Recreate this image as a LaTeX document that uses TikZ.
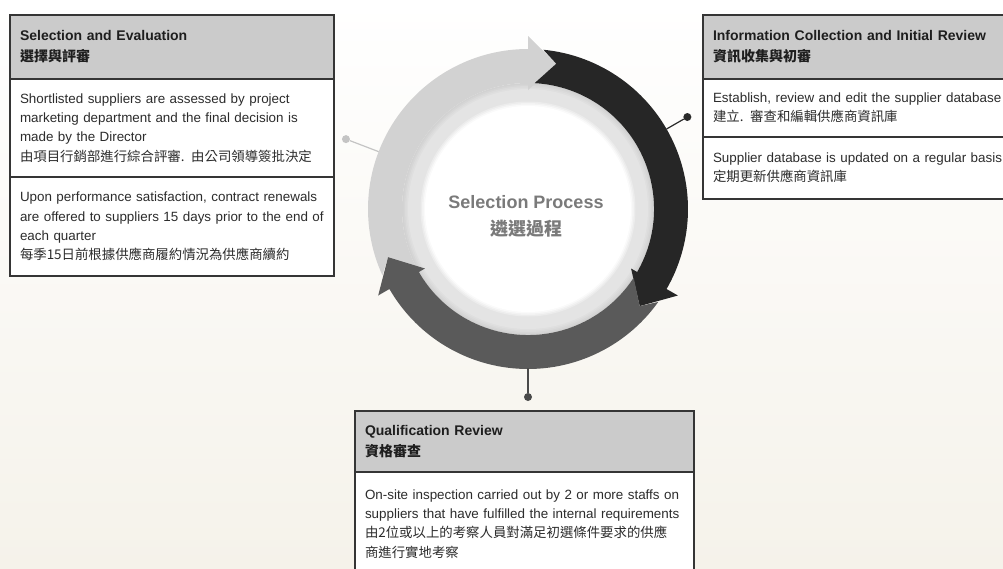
\documentclass[tikz,border=0pt]{standalone}
\usepackage{fontspec}
\setmainfont{Liberation Sans}
\newfontfamily\cjk{Noto Sans CJK TC}
\usetikzlibrary{calc}

\definecolor{boxline}{HTML}{353535}
\definecolor{hdrfill}{HTML}{CBCBCB}
\definecolor{hdrtext}{HTML}{1E1E1E}
\definecolor{bodytext}{HTML}{2C2C2C}
\definecolor{bgbot}{HTML}{F5F2EA}
\definecolor{arrowlight}{HTML}{D2D2D2}
\definecolor{arrowdark}{HTML}{262626}
\definecolor{arrowmid}{HTML}{5A5A5A}
\definecolor{bandgray}{HTML}{E4E4E4}
\definecolor{centertext}{HTML}{7A7A7A}
\definecolor{pinlight}{HTML}{C4C4C4}
\definecolor{pindark}{HTML}{2A2A2A}
\definecolor{pinmid}{HTML}{4A4A4A}

% curved ring arrow: tail notched by the previous head (#2), own head at #3
\newcommand\ringarrow[3]{%
  \fill[#1] (#2-5.5:160) arc[start angle=#2-5.5, end angle=#3, radius=160]
    -- (#3:173) -- (#3-11:148) -- (#3:119) -- (#3:126)
    arc[start angle=#3, end angle=#2-3, radius=126]
    -- (#2-11:148) -- cycle;}

\tikzset{
  sec/.style={draw=boxline, line width=1.8pt, anchor=north west, align=left,
    inner xsep=10pt, inner ysep=0pt, outer sep=0pt},
  hdr/.style={sec, fill=hdrfill, text=hdrtext,
    font=\fontsize{14}{21}\selectfont\bfseries},
  bodysec/.style={sec, fill=white, text=bodytext,
    font=\fontsize{13.4}{19.3}\selectfont},
  pindot/.style={circle, inner sep=0pt, minimum size=8pt},
  pinline/.style={line width=1.2pt},
}

\begin{document}
\begin{tikzpicture}[x=1pt,y=-1pt]
\useasboundingbox (0,0) rectangle (1003,568);
\clip (0,0) rectangle (1003,568);

% page background
\fill[top color=white, middle color=white, bottom color=bgbot] (0,0) rectangle (1003,568);

% ---- Selection and Evaluation ----
\node[hdr, text width=304pt, minimum height=64pt] (selH) at (10,15)
  {Selection and Evaluation\\{\cjk 選擇與評審}};
\node[bodysec, text width=304pt, minimum height=98pt] (selA) at (selH.south west)
  {Shortlisted suppliers are assessed by project\\
   marketing department and the final decision is\\
   made by the Director\\
   {\cjk 由項目行銷部進行綜合評審. 由公司領導簽批決定}};
\node[bodysec, text width=304pt, minimum height=99pt] (selB) at (selA.south west)
  {Upon performance satisfaction, contract renewals\\
   are offered to suppliers 15 days prior to the end of\\
   each quarter\\
   {\cjk 每季15日前根據供應商履約情況為供應商續約}};

% ---- Information Collection and Initial Review ----
\node[hdr, text width=300pt, minimum height=64pt] (infH) at (703,15)
  {Information Collection and Initial Review\\{\cjk 資訊收集與初審}};
\node[bodysec, text width=300pt, minimum height=58pt] (infA) at (infH.south west)
  {Establish, review and edit the supplier database\\
   {\cjk 建立. 審查和編輯供應商資訊庫}};
\node[bodysec, text width=300pt, minimum height=62pt] (infB) at (infA.south west)
  {Supplier database is updated on a regular basis\\
   {\cjk 定期更新供應商資訊庫}};

% ---- Qualification Review ----
\node[hdr, text width=319pt, minimum height=61pt] (quaH) at (355,411)
  {Qualification Review\\{\cjk 資格審查}};
\node[bodysec, text width=319pt, minimum height=104pt] (quaA) at (quaH.south west)
  {On-site inspection carried out by 2 or more staffs on\\
   suppliers that have fulfilled the internal requirements\\
   {\cjk 由2位或以上的考察人員對滿足初選條件要求的供應}\\
   {\cjk 商進行實地考察}};

% ---- process ring ----
\begin{scope}[shift={(528,209)}, yscale=-1]
  % inner band, slightly shadowed next to the ring
  \foreach \r/\p in {126/92, 124.5/94, 123/96, 121.5/98, 120/100}
    \fill[bandgray!\p!black] (0,0) circle[radius=\r];
  % white centre disc with a soft rim
  \foreach \r/\p in {107.5/70, 106/45, 104.5/20, 103/0}
    \fill[bandgray!\p!white] (0,0) circle[radius=\r];

  \ringarrow{arrowlight}{210}{90}
  \ringarrow{arrowdark}{90}{-30}
  \ringarrow{arrowmid}{-30}{-150}

  \coordinate (ringR) at (30:160);
  \coordinate (ringL) at (159:160);
  \coordinate (ringB) at (-90:159);
  \node[pindot, fill=pindark] (pinR) at (30:184) {};
  \node[pindot, fill=pinlight] (pinL) at (159:195) {};
  \node[pindot, fill=pinmid] (pinB) at (-90:188) {};
\end{scope}

\draw[pinline, pindark] (ringR) -- (pinR);
\draw[pinline, pinlight] (ringL) -- (pinL);
\draw[pinline, pinmid] (ringB) -- (pinB);

\node[font=\fontsize{18}{27}\selectfont\bfseries, text=centertext, align=center]
  (title) at (526,216) {Selection Process\\{\cjk 遴選過程}};
\end{tikzpicture}
\end{document}
